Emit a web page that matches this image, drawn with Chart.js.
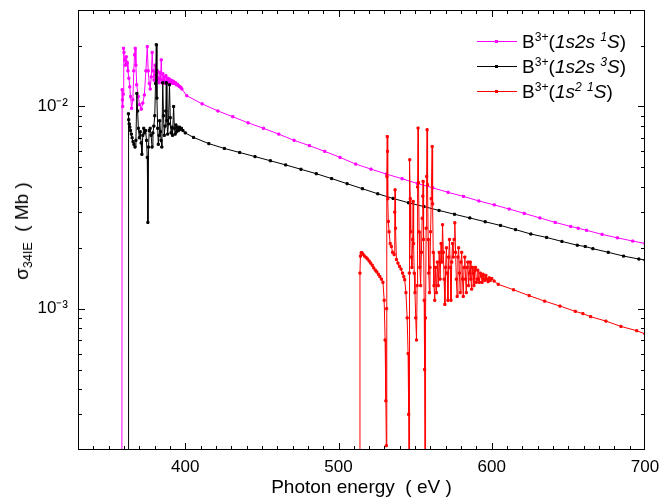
<!DOCTYPE html>
<html>
<head>
<meta charset="utf-8">
<script src="https://cdn.jsdelivr.net/npm/chart.js@4.4.1/dist/chart.umd.min.js"></script>
<style>
body { margin: 0; background: #fff; }
#wrap { position: relative; width: 662px; height: 499px; font-family: "Liberation Sans", Arial, sans-serif; color: #000; }
#chart { position: absolute; left: 0; top: 0; }
#ytitle { position: absolute; left: 22px; top: 231px; transform: translate(-50%, -50%) rotate(-90deg); font-size: 19px; white-space: pre; }
#ytitle sub { font-size: 0.66em; vertical-align: -0.3em; line-height: 0; }
#legend { position: absolute; left: 477px; top: 29px; }
.row { position: absolute; left: 0; height: 25px; line-height: 25px; white-space: nowrap; font-size: 19px; }
.sw { position: absolute; left: 0; top: 12px; width: 40px; height: 1px; }
.sw i { position: absolute; left: 18px; top: -1px; width: 3px; height: 3px; background: inherit; }
.lbl { position: absolute; left: 45px; top: 0; }
.lbl sup { font-size: 0.64em; vertical-align: 0.55em; line-height: 0; }
</style>
</head>
<body>
<div id="wrap">
  <canvas id="chart" width="662" height="499"></canvas>
  <div id="ytitle">σ<sub>34IE</sub>  ( Mb )</div>
  <div id="legend">
    <div class="row" style="top:0px"><span class="sw" style="background:#ff00ff"><i></i></span><span class="lbl">B<sup>3+</sup>(<i>1s2s <sup>1</sup>S</i>)</span></div>
    <div class="row" style="top:25px"><span class="sw" style="background:#000000"><i></i></span><span class="lbl">B<sup>3+</sup>(<i>1s2s <sup>3</sup>S</i>)</span></div>
    <div class="row" style="top:50px"><span class="sw" style="background:#ff0000"><i></i></span><span class="lbl">B<sup>3+</sup>(<i>1s<sup>2</sup> <sup>1</sup>S</i>)</span></div>
  </div>
</div>
<script>
// photon energy (eV) and cross section (Mb)
var singletE = [
  358.6, 358.8, 359.0, 359.2, 359.5, 359.7, 360.0, 360.4, 361.0, 361.5,
  362.1, 362.6, 363.2, 363.8, 364.3, 365.0, 365.8, 366.4, 366.9, 367.3,
  367.8, 368.3, 369.3, 370.2, 371.3, 372.3, 373.3, 374.3, 375.2, 375.8,
  376.5, 377.1, 377.8, 378.4, 379.0, 379.6, 380.4, 380.9, 381.4, 381.9,
  382.4, 382.9, 383.4, 383.9, 384.3, 384.9, 385.4, 385.9, 386.4, 386.9,
  387.4, 387.9, 388.4, 388.9, 389.4, 389.9, 390.4, 390.9, 391.4, 391.9,
  392.4, 393.0, 393.6, 394.2, 394.8, 395.4, 396.0, 396.6, 397.2, 397.8,
  401.0, 411.0, 421.3, 431.0, 441.0, 451.0, 461.0, 471.0, 481.0, 491.0,
  501.0, 511.2, 521.2, 531.3, 541.5, 551.5, 561.5, 571.5, 581.6, 591.6,
  601.6, 611.4, 621.2, 631.4, 641.4, 651.5, 656.4, 661.9, 672.0, 682.0,
  692.0, 700.0
];
var singletS = [
  0.00005, 0.0121, 0.0108, 0.0100, 0.0115, 0.0194, 0.0185, 0.0170, 0.0160, 0.0176,
  0.0165, 0.0150, 0.0138, 0.0125, 0.0112, 0.0098, 0.0108, 0.0150, 0.0180, 0.0194,
  0.0160, 0.0128, 0.0112, 0.0102, 0.0097, 0.0104, 0.0114, 0.0150, 0.0198, 0.0150,
  0.0130, 0.0122, 0.0140, 0.0185, 0.0150, 0.0135, 0.0160, 0.0142, 0.0135, 0.0150,
  0.0138, 0.0131, 0.0147, 0.0136, 0.0170, 0.0131, 0.0145, 0.0134, 0.0140, 0.0130,
  0.0142, 0.0133, 0.0138, 0.0131, 0.0137, 0.0130, 0.0135, 0.0131, 0.0134, 0.0130,
  0.0133, 0.0130, 0.0131, 0.0128, 0.0129, 0.0127, 0.0126, 0.0125, 0.0124, 0.0122,
  0.0113, 0.0103, 0.0095, 0.0089, 0.0083, 0.0078, 0.0073, 0.0068, 0.0064, 0.0060,
  0.0056, 0.00519, 0.00490, 0.00463, 0.00439, 0.00416, 0.00396, 0.00376, 0.00359, 0.00341,
  0.00326, 0.00311, 0.00296, 0.00281, 0.00267, 0.00255, 0.00250, 0.00244, 0.00233, 0.00224,
  0.00216, 0.00210
];

var tripletE = [
  362.8, 362.9, 363.1, 363.4, 363.8, 364.3, 364.8, 365.3, 365.9, 366.5,
  367.2, 367.8, 368.4, 368.9, 369.4, 370.0, 370.6, 371.2, 371.7, 372.3,
  372.9, 373.5, 374.1, 374.7, 375.2, 375.6, 376.0, 376.5, 377.1, 377.7,
  378.3, 378.9, 379.5, 380.1, 380.6, 381.1, 381.5, 382.0, 382.4, 382.9,
  383.3, 383.8, 384.2, 384.7, 385.3, 385.8, 386.3, 386.8, 387.3, 387.6,
  388.0, 388.5, 389.0, 389.7, 390.2, 390.7, 391.2, 391.7, 392.4, 392.9,
  393.4, 393.9, 394.4, 395.0, 395.6, 396.2, 396.8, 397.5, 398.5, 400.0,
  405.4, 415.4, 425.5, 435.5, 445.5, 455.5, 465.5, 475.5, 485.5, 495.5,
  505.6, 515.6, 525.6, 535.6, 545.7, 555.7, 565.6, 575.7, 585.7, 595.7,
  605.7, 615.5, 625.5, 635.8, 645.8, 655.8, 661.0, 666.0, 676.0, 686.0,
  696.0, 700.0
];
var tripletS = [
  0.00005, 0.0092, 0.0086, 0.0082, 0.0079, 0.0076, 0.0073, 0.0070, 0.0067, 0.0065,
  0.0063, 0.0068, 0.0116, 0.0095, 0.0078, 0.0070, 0.0075, 0.0066, 0.0058, 0.0072,
  0.0078, 0.0074, 0.0076, 0.0068, 0.0056, 0.00267, 0.0063, 0.0076, 0.0078, 0.0072,
  0.0063, 0.0074, 0.0080, 0.0090, 0.0130, 0.0202, 0.0110, 0.0078, 0.0065, 0.0072,
  0.0085, 0.0075, 0.0068, 0.0063, 0.0131, 0.0090, 0.0072, 0.0080, 0.0095, 0.0131,
  0.0085, 0.0073, 0.0082, 0.0128, 0.0088, 0.0074, 0.0079, 0.0072, 0.0100, 0.0078,
  0.0073, 0.0081, 0.0075, 0.0079, 0.0076, 0.0079, 0.0077, 0.0078, 0.0076, 0.0074,
  0.00703, 0.00655, 0.0062, 0.00592, 0.00565, 0.00539, 0.00514, 0.00489, 0.00465, 0.00440,
  0.00415, 0.00392, 0.00370, 0.00351, 0.00334, 0.00320, 0.00306, 0.00293, 0.00281, 0.00269,
  0.00258, 0.00246, 0.00234, 0.00225, 0.00215, 0.00206, 0.00203, 0.00198, 0.00190, 0.00182,
  0.00176, 0.00174
];

var groundE = [
  513.8, 514.0, 514.3, 514.8, 515.3, 516.0, 517.0, 518.0, 519.0, 520.0,
  521.0, 522.0, 523.0, 524.0, 525.0, 526.0, 527.0, 528.0, 529.0, 529.8,
  530.4, 530.9, 531.2, 531.4, 531.6, 531.8, 532.0, 532.2, 532.5, 533.0,
  533.7, 534.5, 535.3, 536.3, 536.7, 536.9, 537.2, 537.8, 538.8, 539.8,
  540.8, 541.8, 542.6, 543.2, 544.0, 544.8, 545.4, 545.8, 546.0, 546.2,
  546.5, 546.8, 547.1, 547.5, 547.9, 548.4, 548.7, 549.0, 549.4, 549.9,
  550.4, 550.9, 551.3, 551.6, 551.9, 552.2, 552.6, 553.1, 553.6, 554.1,
  554.6, 555.0, 555.2, 555.5, 555.9, 556.2, 556.5, 556.8, 557.2, 557.5,
  557.8, 558.1, 558.5, 558.9, 559.3, 559.7, 560.1, 560.5, 561.1, 561.4,
  561.8, 562.3, 562.8, 563.3, 563.9, 564.5, 565.1, 565.7, 566.3, 566.9,
  567.4, 567.9, 568.4, 568.9, 569.4, 569.9, 570.4, 570.9, 571.4, 571.9,
  572.4, 572.9, 573.4, 573.9, 574.4, 574.9, 575.4, 575.9, 576.4, 576.9,
  577.4, 577.9, 578.4, 578.9, 579.4, 579.9, 580.4, 580.9, 581.4, 581.9,
  582.4, 582.9, 583.4, 583.9, 584.4, 584.9, 585.4, 585.9, 586.4, 586.9,
  587.4, 587.9, 588.4, 588.9, 589.4, 589.9, 590.4, 590.9, 591.4, 591.9,
  592.5, 593.1, 593.7, 594.3, 594.9, 595.5, 596.2, 596.9, 597.6, 598.3,
  599.0, 600.0, 601.5, 604.2, 614.2, 624.4, 634.5, 644.5, 654.5, 659.5,
  664.5, 674.5, 684.3, 694.6, 700.0
];
var groundS = [
  0.00005, 0.00150, 0.00182, 0.00189, 0.00189, 0.00186, 0.00182, 0.00179, 0.00176, 0.00172,
  0.00168, 0.00164, 0.00159, 0.00155, 0.00152, 0.00148, 0.00144, 0.00140, 0.00135, 0.00110,
  0.00070, 0.00035, 0.00021, 0.00100, 0.00450, 0.00710, 0.00600, 0.00350, 0.00270, 0.00240,
  0.00210, 0.00203, 0.00190, 0.00185, 0.00300, 0.00387, 0.00250, 0.00175, 0.00168, 0.00162,
  0.00157, 0.00150, 0.00144, 0.00139, 0.00120, 0.00090, 0.00060, 0.00030, 0.00005, 0.00150,
  0.00545, 0.00350, 0.00240, 0.00180, 0.00160, 0.00220, 0.00339, 0.00210, 0.00150, 0.00120,
  0.00090, 0.00070, 0.00130, 0.00400, 0.00782, 0.00420, 0.00240, 0.00160, 0.00130, 0.00190,
  0.00280, 0.00360, 0.00426, 0.00220, 0.00110, 0.00050, 0.00005, 0.00090, 0.00250, 0.00450,
  0.00767, 0.00410, 0.00220, 0.00150, 0.00120, 0.00160, 0.00240, 0.00350, 0.00634, 0.00330,
  0.00190, 0.00130, 0.00110, 0.00160, 0.00120, 0.00170, 0.00130, 0.00190, 0.00140, 0.00210,
  0.00170, 0.00260, 0.00190, 0.00140, 0.00105, 0.00160, 0.00200, 0.00150, 0.00110, 0.00180,
  0.00220, 0.00160, 0.00110, 0.00170, 0.00210, 0.00180, 0.00220, 0.00266, 0.00190, 0.00140,
  0.00115, 0.00180, 0.00200, 0.00150, 0.00120, 0.00170, 0.00190, 0.00140, 0.00115, 0.00160,
  0.00180, 0.00140, 0.00120, 0.00160, 0.00170, 0.00130, 0.00150, 0.00170, 0.00140, 0.00125,
  0.00160, 0.00150, 0.00130, 0.00155, 0.00160, 0.00135, 0.00140, 0.00155, 0.00140, 0.00135,
  0.00150, 0.00145, 0.00135, 0.00148, 0.00140, 0.00138, 0.00146, 0.00140, 0.00136, 0.00142,
  0.00138, 0.00141, 0.00137, 0.00132, 0.00124, 0.00116, 0.00109, 0.00103, 0.00097, 0.000945,
  0.000913, 0.000868, 0.000817, 0.000778, 0.00075
];

var xTickValues = [400, 500, 600, 700];
var yTickValues = [1e-3, 1e-2];
var yTickLabels = ['10\u207B\u00B3', '10\u207B\u00B2'];

function toPoints(xs, ys) {
    return xs.map(function (x, i) { return { x: x, y: ys[i] }; });
}

function series(label, xs, ys, color) {
    return {
        label: label,
        data: toPoints(xs, ys),
        borderColor: color,
        backgroundColor: color,
        borderWidth: 1,
        pointStyle: 'rect',
        pointRadius: 1.5,
        pointBorderWidth: 1,
        tension: 0
    };
}

// inward ticks on all four sides, plus the box
var frameTicks = {
    id: 'frameTicks',
    afterDraw: function (chart) {
        var ctx = chart.ctx, a = chart.chartArea;
        var xs = chart.scales.x, ys = chart.scales.y;
        ctx.save();
        ctx.strokeStyle = '#000';
        ctx.lineWidth = 1;
        ctx.strokeRect(a.left + 0.5, a.top + 0.5, a.right - a.left - 1, a.bottom - a.top - 1);
        ctx.beginPath();
        for (var v = 340; v < 700; v += 10) {
            var px = Math.round(xs.getPixelForValue(v)) + 0.5;
            var len = v % 100 === 0 ? 7 : 4;
            ctx.moveTo(px, a.bottom); ctx.lineTo(px, a.bottom - len);
            ctx.moveTo(px, a.top); ctx.lineTo(px, a.top + len);
        }
        for (var d = -4; d <= -2; d++) {
            for (var m = 1; m <= 9; m++) {
                var val = m * Math.pow(10, d);
                if (val <= 2.001e-4 || val >= 2.99e-2) continue;
                var py = Math.round(ys.getPixelForValue(val)) + 0.5;
                var l = m === 1 ? 7 : 4;
                ctx.moveTo(a.left, py); ctx.lineTo(a.left + l, py);
                ctx.moveTo(a.right, py); ctx.lineTo(a.right - l, py);
            }
        }
        ctx.stroke();
        ctx.restore();
    }
};

var fontFamily = '"Liberation Sans", Arial, sans-serif';

var ctx = document.getElementById('chart').getContext('2d');
var chart = new Chart(ctx, {
    type: 'line',
    data: {
        datasets: [
            series('B3+(1s2 1S)', groundE, groundS, '#ff0000'),
            series('B3+(1s2s 3S)', tripletE, tripletS, '#000000'),
            series('B3+(1s2s 1S)', singletE, singletS, '#ff00ff')
        ]
    },
    options: {
        responsive: false,
        animation: false,
        layout: { padding: { top: 10, right: 17, left: 0, bottom: 0 } },
        plugins: {
            legend: { display: false },
            tooltip: { enabled: false }
        },
        scales: {
            x: {
                type: 'linear',
                min: 330,
                max: 700,
                grid: { display: false, drawTicks: false },
                border: { display: false },
                afterBuildTicks: function (s) {
                    s.ticks = xTickValues.map(function (v) { return { value: v }; });
                },
                afterFit: function (s) {
                    s.height = 49;
                    s.paddingLeft = 0;
                    s.paddingRight = 0;
                },
                ticks: {
                    autoSkip: false,
                    maxRotation: 0,
                    padding: 7,
                    color: '#000',
                    font: { family: fontFamily, size: 17 }
                },
                title: {
                    display: true,
                    text: 'Photon energy  ( eV )',
                    color: '#000',
                    padding: 0,
                    font: { family: fontFamily, size: 19 }
                }
            },
            y: {
                type: 'logarithmic',
                min: 2e-4,
                max: 3e-2,
                grid: { display: false, drawTicks: false },
                border: { display: false },
                afterBuildTicks: function (s) {
                    s.ticks = yTickValues.map(function (v) { return { value: v }; });
                },
                afterFit: function (s) {
                    s.width = 78;
                    s.paddingTop = 0;
                    s.paddingBottom = 0;
                },
                ticks: {
                    autoSkip: false,
                    padding: 10,
                    color: '#000',
                    font: { family: fontFamily, size: 17 },
                    callback: function (v) {
                        var i = yTickValues.indexOf(v);
                        return i >= 0 ? yTickLabels[i] : '';
                    }
                }
            }
        }
    },
    plugins: [frameTicks]
});
</script>
</body>
</html>
